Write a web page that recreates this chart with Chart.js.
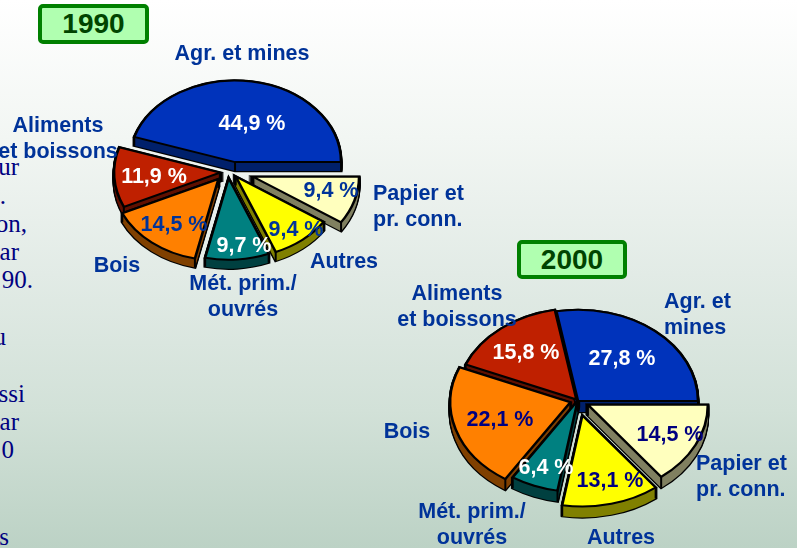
<!DOCTYPE html>
<html lang="fr">
<head>
<meta charset="utf-8">
<script src="https://cdn.jsdelivr.net/npm/chart.js@4"></script>
<style>
html,body{margin:0;padding:0}
#page{position:relative;width:797px;height:548px;overflow:hidden;filter:blur(0.4px);
  background:linear-gradient(to bottom,#ffffff 0%,#f2f6f3 25%,#e2ebe6 50%,#d2e1d8 75%,#bcd2c5 100%)}
.pie{position:absolute;width:300px;height:300px}
.t{position:absolute;font:bold 21.5px "Liberation Sans",Arial,sans-serif;color:#003399;white-space:nowrap;line-height:26px;transform:translate(-50%,-50%)}
.l{transform:translate(0,-50%)}
.s{position:absolute;font:25px "Liberation Serif",serif;color:#000080;white-space:nowrap;line-height:28px;text-align:right;width:200px}
.box{position:absolute;box-sizing:border-box;border:4px solid #008000;border-radius:5px;background:#b0ffb0;color:#004400;
  font:bold 28px "Liberation Sans",Arial,sans-serif;text-align:center}
</style>
</head>
<body>
<div id="page"></div>
<script>
// ---------- data, clockwise from 3 o'clock ----------
const categories = ['Papier et pr. conn.', 'Autres', 'Mét. prim./ouvrés', 'Bois', 'Aliments et boissons', 'Agr. et mines'];
const values1990 = [9.4, 9.4, 9.7, 14.5, 11.9, 44.9];
const values2000 = [14.5, 13.1, 6.4, 22.1, 15.8, 27.8];
const years = ['1990', '2000'];
const faceColors = ['#FFFFBE', '#FFFF00', '#008080', '#FF8000', '#BF2000', '#0033BB'];
const sideColors = ['#808060', '#808000', '#004040', '#804000', '#601000', '#00206B'];
const percentColors1990 = ['#003399', '#003399', '#ffffff', '#003399', '#ffffff', '#ffffff'];
const percentColors2000 = ['#000080', '#000080', '#ffffff', '#000080', '#ffffff', '#ffffff'];
const sideTextLines = ['ur', '.', 'on,', 'ar', '90.', 'u', 'ssi', 'ar', '0', 's'];

// ---------- layout ----------
const pie1990 = {cx:233, cy:172, r:106, k:0.77, depth:9, explode:[21,9,8,20,12,13],
  nudge:[[0,0],[-3,-1],[-5,0],[-2,-5],[-1,0],[0,0]],
  pct:[[331,190],[296,229],[244,245],[174,224],[154,176],[252,123]],
  lbl:[[373,206,'l','Papier et<br>pr. conn.'],[344,261,'c','Autres'],[243,296,'c','Mét. prim./<br>ouvrés'],[117,265,'c','Bois'],[58,138,'c','Aliments<br>et boissons'],[242,53,'c','Agr. et mines']],
  box:[38,4,111,40]};
const pie2000 = {cx:578, cy:401, r:120, k:0.76, depth:11, explode:[11,18,1,6,2.5,0],
  nudge:[[0,0],[0,1],[0,-1],[-2,0],[0,0],[0,0]],
  pct:[[670,434],[610,480],[546,467],[500,419],[526,352],[622,358]],
  lbl:[[696,476,'l','Papier et<br>pr. conn.'],[621,537,'c','Autres'],[472,524,'c','Mét. prim./<br>ouvrés'],[407,431,'c','Bois'],[457,306,'c','Aliments<br>et boissons'],[664,314,'l','Agr. et<br>mines']],
  box:[517,240,110,39]};
const sideTextPos = [[19,153],[6,182],[27,210],[19,238],[33,266],[6,323],[25,380],[19,408],[14,436],[9,523]];

// ---------- pseudo-3D plugin: flattens and extrudes the library's own arcs ----------
const pie3d = {
  id:'pie3d',
  afterDatasetsUpdate(chart){
    const c = chart.options.plugins.pie3d;
    chart.getDatasetMeta(0).data.forEach((a,i)=>{
      const m = (a.startAngle+a.endAngle)/2;
      a.x += Math.cos(m)*c.explode[i] + c.nudge[i][0];
      a.y += Math.sin(m)*c.explode[i] + c.nudge[i][1]/c.k;
    });
  },
  beforeDatasetsDraw(chart){
    const c = chart.options.plugins.pie3d, ctx = chart.ctx;
    const px = chart.width/2, py = chart.height/2, k = c.k;
    ctx.save();
    ctx.translate(px,py); ctx.scale(1,k); ctx.translate(-px,-py);
    const arcs = chart.getDatasetMeta(0).data.map((a,i)=>({a,i}));
    arcs.sort((p,q)=>Math.sin((p.a.startAngle+p.a.endAngle)/2)-Math.sin((q.a.startAngle+q.a.endAngle)/2));
    const draw = (a,dy,o)=>{
      const keep = a.options;
      a.options = Object.assign({},keep,o);
      ctx.save(); ctx.translate(0,dy/k); a.draw(ctx); ctx.restore();
      a.options = keep;
    };
    arcs.forEach(({a,i})=>{
      for(let d=0;d<=c.depth;d++) draw(a,d,{backgroundColor:'#000',borderColor:'#000',borderWidth:3});
      for(let d=0;d<=c.depth;d++) draw(a,d,{backgroundColor:sideColors[i],borderWidth:0});
      ctx.strokeStyle='#000'; ctx.lineWidth=2;
      [[a.x,a.y],
       [a.x+Math.cos(a.startAngle)*a.outerRadius,a.y+Math.sin(a.startAngle)*a.outerRadius],
       [a.x+Math.cos(a.endAngle)*a.outerRadius,a.y+Math.sin(a.endAngle)*a.outerRadius]
      ].forEach(([x,y])=>{
        ctx.beginPath(); ctx.moveTo(x,y); ctx.lineTo(x,y+c.depth/k); ctx.stroke();
      });
    });
  },
  afterDatasetsDraw(chart){ chart.ctx.restore(); }
};

const page = document.getElementById('page');
function addText(cls,x,y,html,color){
  const d = document.createElement('div');
  d.className = cls; d.style.left = x+'px'; d.style.top = y+'px'; d.innerHTML = html;
  if(color) d.style.color = color;
  page.appendChild(d);
  return d;
}
sideTextLines.forEach((s,i)=>addText('s',sideTextPos[i][0]-200,sideTextPos[i][1],s));

function makePie(cfg,values,pctColors,year){
  const wrap = document.createElement('div');
  wrap.className='pie';
  wrap.style.left=(cfg.cx-150)+'px'; wrap.style.top=(cfg.cy-150)+'px';
  const cv = document.createElement('canvas');
  cv.width=300; cv.height=300;
  wrap.appendChild(cv); page.appendChild(wrap);
  new Chart(cv,{
    type:'pie',
    data:{labels:categories,datasets:[{data:values,backgroundColor:faceColors,borderColor:'#000',borderWidth:2.6,
      borderJoinStyle:'miter',borderAlign:'center',clip:false}]},
    options:{responsive:false,animation:false,rotation:90,radius:cfg.r,
      layout:{padding:0},
      plugins:{legend:{display:false},tooltip:{enabled:false},title:{display:false},
        pie3d:{k:cfg.k,depth:cfg.depth,explode:cfg.explode,nudge:cfg.nudge}}},
    plugins:[pie3d]
  });
  const b = addText('box',cfg.box[0],cfg.box[1],year);
  b.style.width=cfg.box[2]+'px'; b.style.height=cfg.box[3]+'px'; b.style.lineHeight=(cfg.box[3]-8)+'px';
  values.forEach((v,i)=>{
    addText('t',cfg.pct[i][0],cfg.pct[i][1],v.toFixed(1).replace('.',',')+' %',pctColors[i]);
    const L = cfg.lbl[i];
    const d = addText(L[2]==='l'?'t l':'t',L[0],L[1],L[3]);
    d.style.textAlign = L[2]==='l'?'left':'center';
  });
}
makePie(pie1990,values1990,percentColors1990,years[0]);
makePie(pie2000,values2000,percentColors2000,years[1]);
</script>
</body>
</html>
